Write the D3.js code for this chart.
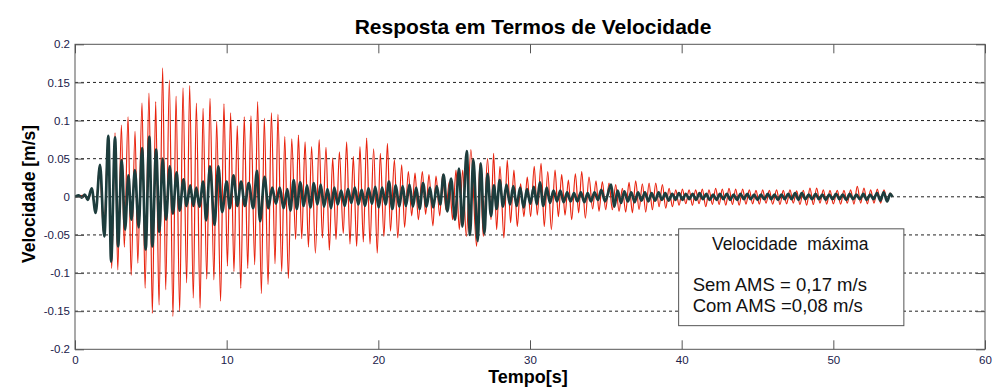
<!DOCTYPE html>
<html>
<head>
<meta charset="utf-8">
<script src="https://cdn.jsdelivr.net/npm/d3@7"></script>
<style>
  body { margin: 0; background: #fff; }
  text { font-family: "Liberation Sans", Arial, sans-serif; }
</style>
</head>
<body>
<div id="chart"></div>
<script>
// ticks
const xTicks = [0, 10, 20, 30, 40, 50, 60];
const yTicks = [-0.2, -0.15, -0.1, -0.05, 0, 0.05, 0.1, 0.15, 0.2];
const gridTicks = [-0.15, -0.1, -0.05, 0, 0.05, 0.1, 0.15];

// Sem AMS (red) - peaks and troughs
const semT = [0, 0.5, 0.9, 1.1, 1.35, 1.62, 1.9, 2.18, 2.42, 2.64, 2.82, 3.06, 3.25, 3.5, 3.7, 3.96, 4.14, 4.42, 4.62, 4.88,
  5.1, 5.32, 5.54, 5.78, 5.98, 6.22, 6.46, 6.66, 6.9, 7.12, 7.36, 7.56, 7.8, 8.0, 8.25, 8.44, 8.69, 8.9, 9.16, 9.34,
  9.6, 9.82, 10.05, 10.26, 10.48, 10.7, 10.93, 11.16, 11.39, 11.6, 11.85, 12.04, 12.29, 12.48, 12.73, 12.95, 13.19, 13.38, 13.63, 13.83,
  14.07, 14.29, 14.55, 14.73, 14.95, 15.17, 15.39, 15.6, 15.85, 16.1, 16.31, 16.55, 16.77, 16.99, 17.21, 17.43, 17.69, 17.91, 18.13, 18.35,
  18.57, 18.79, 19.01, 19.23, 19.45, 19.69, 19.93, 20.13, 20.37, 20.6, 20.8, 21.06, 21.28, 21.54, 21.73, 21.98, 22.2, 22.42, 22.64, 22.9,
  23.12, 23.34, 23.6, 23.8, 24.05, 24.24, 24.46, 24.68, 24.9, 25.12, 25.34, 25.56, 25.8, 26.1, 26.48, 26.7, 26.92, 27.2, 27.43, 27.6,
  27.8, 28.02, 28.28, 28.5, 28.72, 28.94, 29.16, 29.38, 29.6, 29.82, 30.04, 30.28, 30.48, 30.73, 30.94, 31.17, 31.41, 31.65, 31.87, 32.09,
  32.31, 32.53, 32.75, 32.99, 33.21, 33.41, 33.65, 33.89, 34.13, 34.35, 34.55, 34.77, 34.99, 35.21, 35.43, 35.65, 35.87, 36.09, 36.31, 36.53,
  36.75, 36.97, 37.19, 37.41, 37.63, 37.85, 38.07, 38.29, 38.51, 38.73, 38.95, 39.17, 39.39, 39.61, 39.83, 40.05, 40.27, 40.49, 40.71, 40.92,
  41.15, 41.36, 41.59, 41.8, 42.03, 42.24, 42.47, 42.68, 42.91, 43.12, 43.35, 43.56, 43.79, 44.02, 44.24, 44.46, 44.68, 44.9, 45.12, 45.34,
  45.56, 45.78, 46.0, 46.26, 46.48, 46.7, 46.92, 47.14, 47.36, 47.58, 47.8, 48.02, 48.24, 48.46, 48.68, 48.9, 49.12, 49.34, 49.56, 49.78,
  50.0, 50.26, 50.48, 50.7, 50.92, 51.14, 51.36, 51.58, 51.8, 52.02, 52.24, 52.46, 52.68, 52.9, 53.12, 53.34, 53.56, 53.74, 53.9];
const semV = [0, 0.002, -0.003, 0.01, -0.02, 0.04, -0.05, 0.075, -0.094, 0.084, -0.096, 0.094, -0.066, 0.105, -0.103, 0.086, -0.087, 0.123, -0.12, 0.136,
  -0.153, 0.125, -0.142, 0.169, -0.122, 0.153, -0.157, 0.132, -0.15, 0.143, -0.113, 0.146, -0.133, 0.123, -0.146, 0.116, -0.108, 0.129, -0.109, 0.099,
  -0.137, 0.122, -0.091, 0.11, -0.098, 0.093, -0.12, 0.105, -0.094, 0.106, -0.089, 0.125, -0.127, 0.103, -0.115, 0.11, -0.088, 0.108, -0.098, 0.079,
  -0.107, 0.076, -0.056, 0.081, -0.055, 0.072, -0.066, 0.066, -0.074, 0.075, -0.054, 0.065, -0.07, 0.051, -0.056, 0.059, -0.048, 0.072, -0.062, 0.053,
  -0.065, 0.066, -0.059, 0.077, -0.062, 0.063, -0.074, 0.057, -0.052, 0.07, -0.045, 0.0485, -0.054, 0.042, -0.04, 0.033, -0.025, 0.031, -0.03, 0.033,
  -0.023, 0.029, -0.038, 0.027, -0.025, 0.029, -0.017, 0.02, -0.03, 0.035, -0.043, 0.035, -0.052, 0.062, -0.065, 0.044, -0.052, 0.05, -0.03, 0.057,
  -0.043, 0.04, -0.054, 0.048, -0.034, 0.035, -0.039, 0.017, -0.026, 0.026, -0.026, 0.04, -0.024, 0.044, -0.039, 0.033, -0.043, 0.035, -0.026, 0.029,
  -0.024, 0.022, -0.03, 0.03, -0.021, 0.033, -0.028, 0.026, -0.016, 0.021, -0.019, 0.02, -0.017, 0.018, -0.017, 0.016, -0.019, 0.011, -0.02, 0.019,
  -0.021, 0.021, -0.017, 0.017, -0.02, 0.018, -0.017, 0.018, -0.013, 0.016, -0.015, 0.011, -0.013, 0.009, -0.011, 0.01, -0.009, 0.009, -0.011, 0.009,
  -0.009, 0.01, -0.013, 0.009, -0.01, 0.011, -0.01, 0.01, -0.011, 0.011, -0.01, 0.01, -0.011, 0.0101, -0.0096, 0.0092, -0.0092, 0.0083, -0.0096, 0.0092,
  -0.0083, 0.0083, -0.0096, 0.0092, -0.0101, 0.0083, -0.0092, 0.0092, -0.0083, 0.0079, -0.0101, 0.0083, -0.0109, 0.0114, -0.0101, 0.0114, -0.0083, 0.0092, -0.0096, 0.0083,
  -0.0092, 0.0083, -0.0096, 0.0083, -0.0083, 0.0092, -0.0096, 0.0136, -0.0083, 0.0114, -0.0092, 0.0092, -0.0083, 0.0101, -0.0083, 0.0092, -0.0061, 0.0048, 0];

// Com AMS (dark green)
const comT = [0, 0.25, 0.45, 0.65, 0.84, 1.1, 1.36, 1.65, 1.93, 2.2, 2.38, 2.64, 2.84, 3.08, 3.3, 3.52, 3.72, 3.95, 4.2, 4.42,
  4.66, 4.9, 5.1, 5.35, 5.56, 5.78, 6.0, 6.25, 6.45, 6.7, 6.9, 7.15, 7.35, 7.6, 7.8, 8.0, 8.2, 8.45, 8.65, 8.9,
  9.2, 9.45, 9.7, 10.0, 10.2, 10.45, 10.7, 10.95, 11.2, 11.45, 11.75, 12.0, 12.2, 12.5, 12.75, 13.0, 13.25, 13.5, 13.75, 14.0,
  14.2, 14.42, 14.62, 14.85, 15.08, 15.3, 15.52, 15.75, 15.98, 16.2, 16.42, 16.65, 16.88, 17.1, 17.32, 17.55, 17.78, 18.0, 18.22, 18.45,
  18.68, 18.9, 19.12, 19.35, 19.58, 19.8, 20.02, 20.25, 20.48, 20.7, 20.92, 21.15, 21.38, 21.6, 21.82, 22.05, 22.28, 22.5, 22.72, 22.95,
  23.18, 23.4, 23.62, 23.85, 24.08, 24.3, 24.55, 24.8, 25.05, 25.32, 25.54, 25.83, 26.04, 26.26, 26.55, 26.75, 26.99, 27.2, 27.43, 27.62,
  27.8, 28.0, 28.22, 28.45, 28.68, 28.9, 29.12, 29.35, 29.58, 29.8, 30.02, 30.25, 30.45, 30.65, 30.88, 31.1, 31.32, 31.55, 31.78, 32.0,
  32.22, 32.45, 32.68, 32.9, 33.12, 33.35, 33.58, 33.8, 34.02, 34.25, 34.48, 34.7, 34.95, 35.35, 35.55, 35.78, 36.0, 36.22, 36.45, 36.68,
  36.9, 37.12, 37.35, 37.58, 37.8, 38.02, 38.25, 38.48, 38.7, 38.92, 39.15, 39.38, 39.6, 39.82, 40.05, 40.28, 40.5, 40.72, 40.95, 41.18,
  41.4, 41.62, 41.85, 42.08, 42.3, 42.52, 42.75, 42.98, 43.2, 43.42, 43.65, 43.88, 44.1, 44.32, 44.55, 44.78, 45.0, 45.22, 45.45, 45.68,
  45.9, 46.12, 46.35, 46.58, 46.8, 47.02, 47.25, 47.48, 47.7, 47.92, 48.15, 48.38, 48.6, 48.82, 49.05, 49.28, 49.5, 49.72, 49.95, 50.18,
  50.4, 50.62, 50.85, 51.08, 51.3, 51.52, 51.75, 51.98, 52.2, 52.42, 52.65, 52.88, 53.1, 53.32, 53.55, 53.75, 53.9];
const comV = [0, 0.002, -0.001, 0.003, -0.004, 0.011, -0.021, 0.042, -0.052, 0.08, -0.085, 0.078, -0.065, 0.048, -0.043, 0.028, -0.03, 0.035, -0.04, 0.064,
  -0.069, 0.079, -0.065, 0.062, -0.046, 0.05, -0.03, 0.04, -0.022, 0.032, -0.018, 0.023, -0.012, 0.015, -0.012, 0.012, -0.013, 0.02, -0.031, 0.04,
  -0.037, 0.04, -0.02, 0.02, -0.015, 0.028, -0.012, 0.02, -0.012, 0.018, -0.015, 0.034, -0.032, 0.026, -0.015, 0.012, -0.009, 0.012, -0.015, 0.01,
  -0.018, 0.022, -0.016, 0.019, -0.012, 0.015, -0.014, 0.018, -0.01, 0.016, -0.013, 0.01, -0.015, 0.012, -0.01, 0.008, -0.012, 0.01, -0.008, 0.012,
  -0.01, 0.009, -0.012, 0.011, -0.009, 0.013, -0.014, 0.012, -0.01, 0.02, -0.016, 0.015, -0.013, 0.014, -0.012, 0.016, -0.013, 0.012, -0.016, 0.018,
  -0.013, 0.012, -0.014, 0.014, -0.01, 0.029, -0.019, 0.024, -0.03, 0.037, -0.039, 0.06, -0.05, 0.049, -0.058, 0.044, -0.048, 0.03, -0.025, 0.015,
  -0.016, 0.022, -0.013, 0.016, -0.01, 0.014, -0.012, 0.012, -0.014, 0.01, -0.009, 0.013, -0.01, 0.019, -0.012, 0.012, -0.008, 0.008, -0.006, 0.008,
  -0.007, 0.006, -0.006, 0.005, -0.006, 0.006, -0.007, 0.005, -0.006, 0.006, -0.004, 0.009, -0.006, 0.016, -0.013, 0.008, -0.008, 0.007, -0.006, 0.006,
  -0.007, 0.006, -0.005, 0.006, -0.006, 0.005, -0.005, 0.006, -0.004, 0.005, -0.005, 0.004, -0.004, 0.005, -0.004, 0.004, -0.003, 0.004, -0.004, 0.005,
  -0.003, 0.004, -0.004, 0.003, -0.004, 0.004, -0.003, 0.004, -0.004, 0.003, -0.004, 0.004, -0.003, 0.004, -0.003, 0.003, -0.004, 0.003, -0.003, 0.004,
  -0.003, 0.003, -0.004, 0.003, -0.003, 0.004, -0.003, 0.005, -0.004, 0.005, -0.003, 0.003, -0.003, 0.004, -0.003, 0.003, -0.004, 0.003, -0.003, 0.004,
  -0.003, 0.003, -0.004, 0.004, -0.003, 0.003, -0.003, 0.004, -0.004, 0.003, -0.003, 0.005, -0.005, 0.006, -0.006, 0.004, 0];

const titleText = "Resposta em Termos de Velocidade";
const xLabel = "Tempo[s]";
const yLabel = "Velocidade [m/s]";
const boxTitle = "Velocidade  máxima";
const boxLines = ["Sem AMS = 0,17 m/s", "Com AMS =0,08 m/s"];
const boxRange = { t0: 39.8, t1: 54.65, v0: -0.042, v1: -0.169 };

const W = 997, H = 387;
const mLeft = 75, mRight = 985, mTop = 44.3, mBottom = 349.3;

const svg = d3.select("#chart").append("svg")
    .attr("width", W)
    .attr("height", H);

const x = d3.scaleLinear().domain([0, 60]).range([mLeft, mRight]);
const y = d3.scaleLinear().domain([-0.2, 0.2]).range([mBottom, mTop]);

// grid
svg.append("g")
    .selectAll("line")
    .data(gridTicks)
    .enter()
    .append("line")
    .attr("x1", mLeft).attr("x2", mRight)
    .attr("y1", d => y(d)).attr("y2", d => y(d))
    .attr("stroke", "#222")
    .attr("stroke-width", 1)
    .attr("stroke-dasharray", "3,3");

svg.append("clipPath").attr("id", "clip")
    .append("rect")
    .attr("x", mLeft).attr("y", mTop)
    .attr("width", mRight - mLeft).attr("height", mBottom - mTop);

const plot = svg.append("g").attr("clip-path", "url(#clip)");

function lineFor(T) {
    return d3.line()
        .x((d, i) => x(T[i]))
        .y(d => y(d))
        .curve(d3.curveMonotoneX);
}

plot.append("path")
    .datum(semV)
    .attr("d", lineFor(semT))
    .attr("fill", "none")
    .attr("stroke", "#e8230e")
    .attr("stroke-width", 1.2);

plot.append("path")
    .datum(comV)
    .attr("d", lineFor(comT))
    .attr("fill", "none")
    .attr("stroke", "#1d3d3d")
    .attr("stroke-width", 2.7);

// axes (ticks inward, MATLAB style)
const tickColor = "#555";
const labelColor = "#20204a";

function styleAxis(g) {
    g.select(".domain").remove();
    g.selectAll(".tick line").attr("stroke", tickColor);
    g.selectAll(".tick text")
        .attr("fill", labelColor)
        .style("font-size", "11.5px")
        .style("font-family", '"Liberation Sans", Arial, sans-serif');
}

svg.append("g")
    .attr("transform", "translate(0," + mBottom + ")")
    .call(d3.axisBottom(x).tickValues(xTicks).tickSize(-9).tickPadding(7).tickFormat(d => String(d)))
    .call(styleAxis);

svg.append("g")
    .attr("transform", "translate(0," + mTop + ")")
    .call(d3.axisTop(x).tickValues(xTicks).tickSize(-9).tickFormat(""))
    .call(styleAxis);

svg.append("g")
    .attr("transform", "translate(" + mLeft + ",0)")
    .call(d3.axisLeft(y).tickValues(yTicks).tickSize(-9).tickPadding(5).tickFormat(d => String(d)))
    .call(styleAxis);

svg.append("g")
    .attr("transform", "translate(" + mRight + ",0)")
    .call(d3.axisRight(y).tickValues(yTicks).tickSize(-9).tickFormat(""))
    .call(styleAxis);

// axes box
svg.append("rect")
    .attr("x", mLeft).attr("y", mTop)
    .attr("width", mRight - mLeft).attr("height", mBottom - mTop)
    .attr("fill", "none")
    .attr("stroke", tickColor)
    .attr("stroke-width", 1);

// titles
svg.append("text")
    .attr("x", 533).attr("y", 34)
    .attr("text-anchor", "middle")
    .style("font-size", "21px").style("font-weight", "bold")
    .attr("fill", "#000")
    .text(titleText);

svg.append("text")
    .attr("x", 528).attr("y", 383)
    .attr("text-anchor", "middle")
    .style("font-size", "18px").style("font-weight", "bold")
    .attr("fill", "#000")
    .text(xLabel);

svg.append("text")
    .attr("transform", "translate(35,194) rotate(-90)")
    .attr("text-anchor", "middle")
    .style("font-size", "17.5px").style("font-weight", "bold")
    .attr("fill", "#000")
    .text(yLabel);

// annotation box
const bx0 = x(boxRange.t0), bx1 = x(boxRange.t1);
const by0 = y(boxRange.v0), by1 = y(boxRange.v1);
const box = svg.append("g");
box.append("rect")
    .attr("x", bx0).attr("y", by0)
    .attr("width", bx1 - bx0).attr("height", by1 - by0)
    .attr("fill", "#fff")
    .attr("stroke", "#555")
    .attr("stroke-width", 1);

box.append("text")
    .attr("x", (bx0 + bx1) / 2 - 1).attr("y", by0 + 21)
    .attr("text-anchor", "middle")
    .style("white-space", "pre")
    .style("font-size", "17.5px")
    .attr("fill", "#111")
    .text(boxTitle);

box.selectAll(".bline")
    .data(boxLines)
    .enter()
    .append("text")
    .attr("class", "bline")
    .attr("x", bx0 + 14)
    .attr("y", (d, i) => by0 + 62 + i * 21)
    .style("font-size", "18.5px")
    .attr("fill", "#111")
    .text(d => d);
</script>
</body>
</html>
